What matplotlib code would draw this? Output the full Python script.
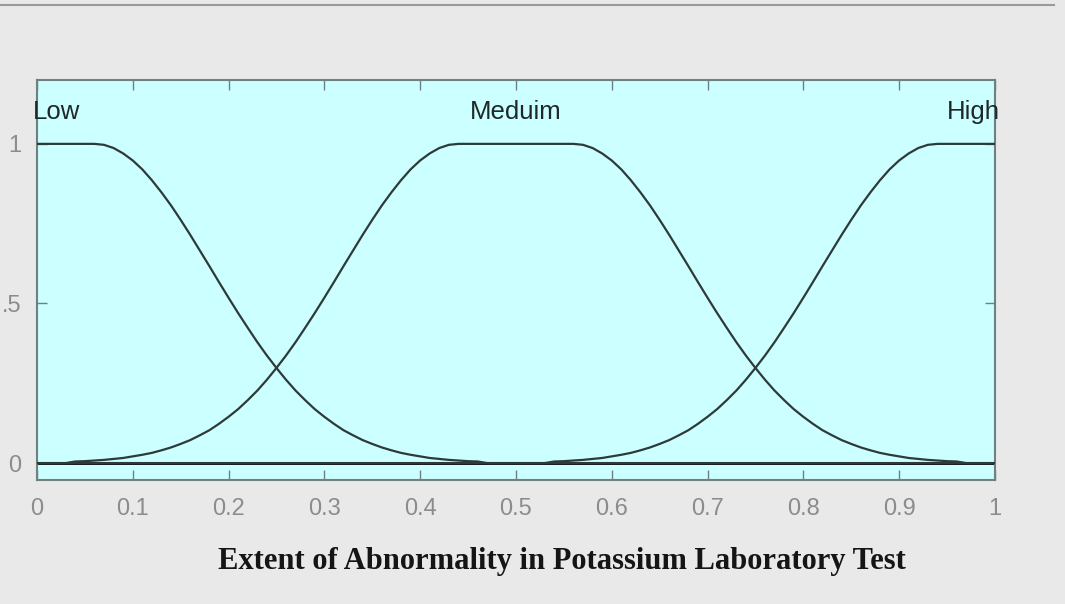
import matplotlib.pyplot as plt
from matplotlib.lines import Line2D

# membership curves (x step 0.01 on the slopes)
low_x = [0.0] + [round(0.06 + 0.01 * i, 2) for i in range(42)] + [1.0]
low_y = [1.0, 1.000, 0.997, 0.987, 0.970, 0.948, 0.920, 0.886, 0.848, 0.807, 0.762,
         0.715, 0.666, 0.617, 0.567, 0.518, 0.470, 0.424, 0.379, 0.337, 0.298,
         0.261, 0.227, 0.197, 0.169, 0.145, 0.123, 0.103, 0.087, 0.072, 0.060,
         0.049, 0.040, 0.032, 0.026, 0.021, 0.016, 0.013, 0.010, 0.008, 0.006,
         0.005, 0.0, 0.0]

med_x = ([0.0] + [round(0.03 + 0.01 * i, 2) for i in range(42)]
         + [round(0.56 + 0.01 * i, 2) for i in range(42)] + [1.0])
med_y = [0.0, 0.0, 0.005, 0.006, 0.008, 0.010, 0.013, 0.016, 0.021, 0.026, 0.032,
         0.040, 0.049, 0.060, 0.072, 0.087, 0.103, 0.123, 0.145, 0.169, 0.197,
         0.227, 0.261, 0.298, 0.337, 0.379, 0.424, 0.470, 0.518, 0.567, 0.617,
         0.666, 0.715, 0.762, 0.807, 0.848, 0.886, 0.920, 0.948, 0.970, 0.987,
         0.997, 1.000,
         1.000, 0.997, 0.987, 0.970, 0.948, 0.920, 0.886, 0.848, 0.807, 0.762,
         0.715, 0.666, 0.617, 0.567, 0.518, 0.470, 0.424, 0.379, 0.337, 0.298,
         0.261, 0.227, 0.197, 0.169, 0.145, 0.123, 0.103, 0.087, 0.072, 0.060,
         0.049, 0.040, 0.032, 0.026, 0.021, 0.016, 0.013, 0.010, 0.008, 0.006,
         0.005, 0.0, 0.0]

high_x = [0.0] + [round(0.53 + 0.01 * i, 2) for i in range(42)] + [1.0]
high_y = [0.0, 0.0, 0.005, 0.006, 0.008, 0.010, 0.013, 0.016, 0.021, 0.026, 0.032,
          0.040, 0.049, 0.060, 0.072, 0.087, 0.103, 0.123, 0.145, 0.169, 0.197,
          0.227, 0.261, 0.298, 0.337, 0.379, 0.424, 0.470, 0.518, 0.567, 0.617,
          0.666, 0.715, 0.762, 0.807, 0.848, 0.886, 0.920, 0.948, 0.970, 0.987,
          0.997, 1.000, 1.0]

labels = ["Low", "Meduim", "High"]
label_x = [0.02, 0.5, 0.978]
x_ticks = [0, 0.1, 0.2, 0.3, 0.4, 0.5, 0.6, 0.7, 0.8, 0.9, 1]
x_tick_labels = ["0", "0.1", "0.2", "0.3", "0.4", "0.5", "0.6", "0.7", "0.8", "0.9", "1"]
y_ticks = [0, 0.5, 1]
y_tick_labels = ["0", ".5", "1"]

fig = plt.figure(figsize=(10.65, 6.04), dpi=100)
fig.patch.set_facecolor("#e9e9e9")
ax = fig.add_axes([0.0347, 0.2053, 0.8995, 0.6622])
ax.set_facecolor("#ccffff")

line_color = "#2e3a3a"
ax.axhline(0, color="black", lw=2, zorder=2)
for xs, ys in [(low_x, low_y), (med_x, med_y), (high_x, high_y)]:
    ax.plot(xs, ys, color=line_color, lw=1.6, zorder=3)

for lx, name in zip(label_x, labels):
    ax.text(lx, 1.1, name, ha="center", va="center", fontsize=18.5,
            family="Liberation Sans", color="#1e2828", clip_on=False)

ax.set_xlim(0, 1)
ax.set_ylim(-0.053, 1.2)
ax.set_xticks(x_ticks)
ax.set_xticklabels(x_tick_labels)
ax.set_yticks(y_ticks)
ax.set_yticklabels(y_tick_labels)
ax.tick_params(direction="in", top=True, right=True, length=7, width=1,
               color="#6f8080", labelcolor="#8c8c8c", labelsize=17)
ax.tick_params(axis="x", pad=13)
ax.tick_params(axis="y", pad=11)
for lab in ax.get_xticklabels() + ax.get_yticklabels():
    lab.set_family("Liberation Sans")
for side in ax.spines.values():
    side.set_color("#6f8080")
    side.set_linewidth(1.5)

fig.text(0.528, 0.071, "Extent of Abnormality in Potassium Laboratory Test",
         ha="center", va="center", family="Liberation Serif",
         fontweight="bold", fontsize=22, color="#151515")

# thin grey rule along the top of the figure
fig.add_artist(Line2D([0.0, 0.99], [0.992, 0.992], color="#9a9a9a", lw=1.5,
                      transform=fig.transFigure))

plt.savefig("out.png", dpi=100, facecolor=fig.get_facecolor())
